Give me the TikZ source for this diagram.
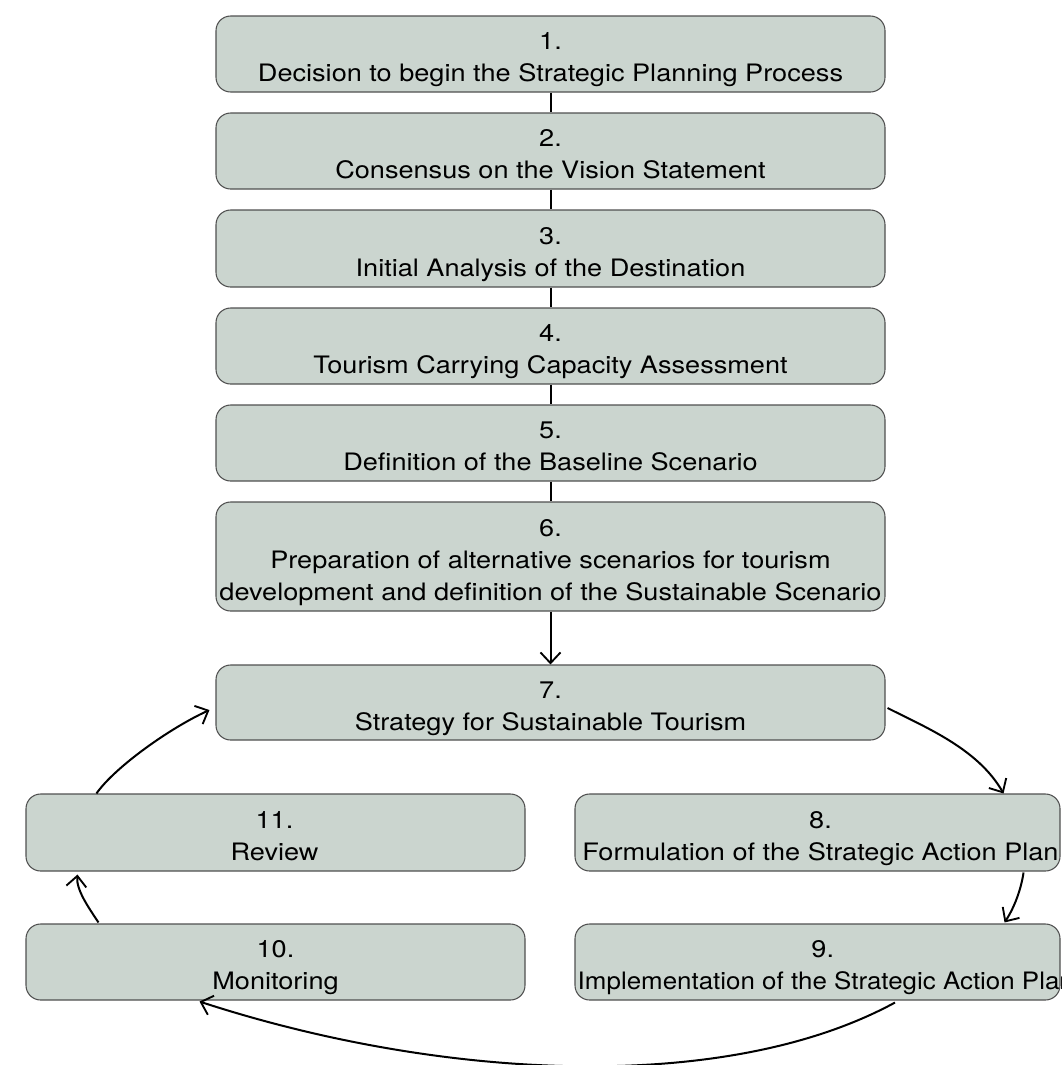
\documentclass[tikz,border=0pt]{standalone}
\usepackage{fontspec}
\setmainfont[FakeStretch=1.13]{TeX Gyre Heros}
\newfontfamily\narrowfont[FakeStretch=1.08]{TeX Gyre Heros}
\usetikzlibrary{arrows.meta}
\definecolor{boxfill}{RGB}{203,213,207}
\definecolor{boxline}{RGB}{80,80,80}
\tikzset{
  box/.style={draw=boxline, fill=boxfill, line width=0.8pt, rounded corners=11pt, inner sep=0pt},
  txt/.style={align=center, inner sep=0pt, font=\fontsize{18}{24}\selectfont},
  link/.style={line width=1.5pt, black},
  arr/.style={link, -{Straight Barb[length=8pt, width=15pt, line width=1.4pt]}}
}
\begin{document}
\begin{tikzpicture}[x=0.75pt, y=-0.75pt]
\clip (0,0) rectangle (1062,1065);
\useasboundingbox (0,0) rectangle (1062,1065);
% boxes
\node[box, minimum width=501.75pt, minimum height=57pt] (b1) at (550.5,54) {};
\node[box, minimum width=501.75pt, minimum height=57pt] (b2) at (550.5,151) {};
\node[box, minimum width=501.75pt, minimum height=57.75pt] (b3) at (550.5,248.5) {};
\node[box, minimum width=501.75pt, minimum height=57pt] (b4) at (550.5,346) {};
\node[box, minimum width=501.75pt, minimum height=57pt] (b5) at (550.5,443) {};
\node[box, minimum width=501.75pt, minimum height=81.75pt] (b6) at (550.5,556.5) {};
\node[box, minimum width=501.75pt, minimum height=56.25pt] (b7) at (550.5,702.5) {};
\node[box, minimum width=374.25pt, minimum height=57.75pt] (b11) at (275.5,832.5) {};
\node[box, minimum width=374.25pt, minimum height=57pt] (b10) at (275.5,962) {};
\node[box, minimum width=363.75pt, minimum height=57.75pt] (b8) at (817.5,832.5) {};
\node[box, minimum width=363.75pt, minimum height=57pt] (b9) at (817.5,962) {};
% texts
\node[txt] (t1) at ([shift={(0,5.1)}]b1.center) {\strut 1.\\\strut Decision to begin the Strategic Planning Process};
\node[txt] (t2) at ([shift={(0,5.1)}]b2.center) {\strut 2.\\\strut Consensus on the Vision Statement};
\node[txt] (t3) at ([shift={(0,5.1)}]b3.center) {\strut 3.\\\strut Initial Analysis of the Destination};
\node[txt] (t4) at ([shift={(0,5.1)}]b4.center) {\strut 4.\\\strut Tourism Carrying Capacity Assessment};
\node[txt] (t5) at ([shift={(0,5.1)}]b5.center) {\strut 5.\\\strut Definition of the Baseline Scenario};
\node[txt] (t6) at ([shift={(0,5.1)}]b6.center) {\strut 6.\\\strut Preparation of alternative scenarios for tourism\\\strut development and definition of the Sustainable Scenario};
\node[txt] (t7) at ([shift={(0,5.1)}]b7.center) {\strut 7.\\\strut Strategy for Sustainable Tourism};
\node[txt] (t8) at ([shift={(3,5.1)}]b8.center) {\strut 8.\\\strut Formulation of the Strategic Action Plan};
\node[txt, anchor=west] (t9) at ([shift={(3,5.1)}]b9.west) {\strut\hspace*{-4.5pt}9.\\\strut{\narrowfont Implementation of the Strategic Action Plan}};
\node[txt] (t10) at ([shift={(0,5.1)}]b10.center) {\strut 10.\\\strut Monitoring};
\node[txt] (t11) at ([shift={(-1,5.1)}]b11.center) {\strut 11.\\\strut Review};
% straight connectors
\draw[link] (b1.south) -- (b2.north);
\draw[link] (b2.south) -- (b3.north);
\draw[link] (b3.south) -- (b4.north);
\draw[link] (b4.south) -- (b5.north);
\draw[link] (b5.south) -- (b6.north);
\draw[arr] (b6.south) -- (b7.north);
% cycle
\draw[arr] ([shift={(2,5.5)}]b7.east) .. controls (927,728) and (978,749) .. ([shift={(-57,0)}]b8.north east);
\draw[arr] ([shift={(-37,1)}]b8.south east) .. controls (1021,890) and (1014,908) .. ([shift={(-56,-1)}]b9.north east);
\draw[arr] ([shift={(77.5,2)}]b9.south) .. controls (725,1095) and (440,1080) .. ([shift={(-76,1)}]b10.south);
\draw[arr] ([shift={(73,-1)}]b10.north west) .. controls (89,908) and (76,890) .. ([shift={(52,3)}]b11.south west);
\draw[arr] ([shift={(71,0)}]b11.north west) .. controls (115,767) and (170,728) .. ([shift={(-6,7.5)}]b7.west);
\end{tikzpicture}
\end{document}
